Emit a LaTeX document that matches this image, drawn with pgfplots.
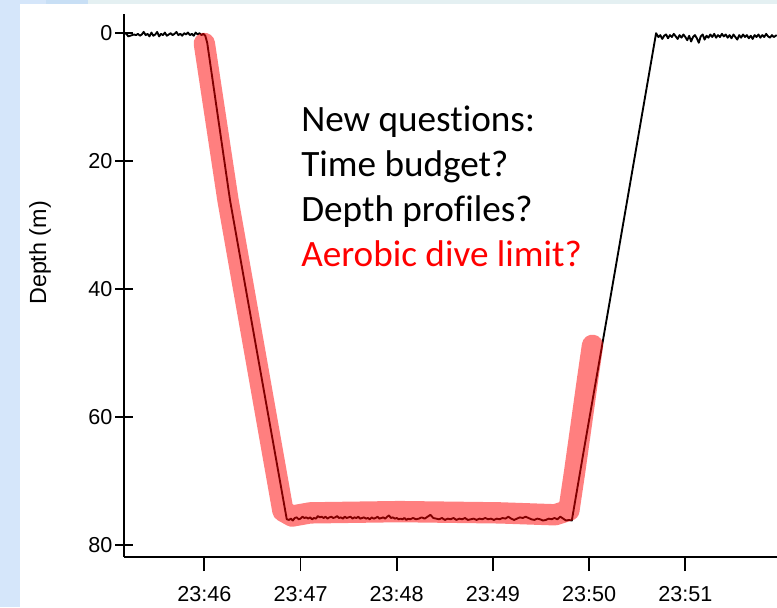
\documentclass[border=0pt]{standalone}
\usepackage{pgfplots}
\pgfplotsset{compat=1.18}
\usepackage{fontspec}
\setmainfont{Liberation Sans}
\newfontfamily\calibri[Ligatures=NoCommon]{Carlito}
\definecolor{bgblue}{RGB}{213,230,250}
\definecolor{bgblue2}{RGB}{200,223,245}
\definecolor{bgpale}{RGB}{228,240,242}
\begin{document}
\begin{tikzpicture}
\useasboundingbox (0,0) rectangle (582.75pt,455.25pt);
\fill[white] (0,0) rectangle (582.75pt,455.25pt);
\fill[bgblue] (0,0) rectangle (15pt,455.25pt);
\fill[bgblue] (0,451.9pt) rectangle (34.5pt,455.25pt);
\fill[bgblue2] (34.5pt,451.9pt) rectangle (66pt,455.25pt);
\fill[bgpale] (66pt,451.9pt) rectangle (582.75pt,455.25pt);
\begin{axis}[
  at={(93pt,37.5pt)}, anchor=south west, scale only axis,
  width=489.75pt, height=407.25pt,
  xmin=-0.835, xmax=5.953, ymin=-3, ymax=81.9, y dir=reverse,
  axis x line*=bottom, axis y line*=left,
  axis line style={line width=1.5pt, black},
  xtick={0,1,2,3,4,5},
  xticklabels={23:46,23:47,23:48,23:49,23:50,23:51},
  ytick={0,20,40,60,80},
  xtick align=outside, ytick align=center,
  major tick length=10.5pt,
  ytick style={/pgfplots/major tick length=12.75pt},
  tick style={line width=1.4pt, black},
  tick label style={font=\fontsize{16.2}{19}\selectfont},
  xticklabel style={yshift=-8pt},
  /pgf/number format/assume math mode=true,
  ylabel={Depth (m)},
  ylabel style={font=\fontsize{17.5}{20}\selectfont, at={(axis description cs:-0.1286,0.56)}, anchor=center},
  clip=true,
]
\addplot[black, line width=1.4pt, line join=round] coordinates {
(-0.835,0.0) (-0.81,0.1) (-0.79,0.5) (-0.77,0.4) (-0.75,0.3) (-0.73,0.2) (-0.71,0.3) (-0.69,0.1)
(-0.67,0.4) (-0.65,0.2) (-0.63,-0.2) (-0.61,0.3) (-0.59,0.1) (-0.57,0.5) (-0.55,-0.1) (-0.53,0.4)
(-0.51,0.2) (-0.49,-0.2) (-0.47,0.5) (-0.45,0.1) (-0.43,0.3) (-0.41,-0.1) (-0.39,0.4) (-0.37,0.2)
(-0.35,0.0) (-0.33,0.3) (-0.31,0.1) (-0.29,-0.2) (-0.27,0.3) (-0.25,0.1) (-0.23,0.4) (-0.21,0.0)
(-0.19,0.2) (-0.17,-0.1) (-0.15,0.3) (-0.13,0.1) (-0.11,0.4) (-0.09,-0.1) (-0.07,0.2) (-0.05,0.0)
(-0.03,0.3) (-0.01,0.1) (0.01,0.4) (0.03,1.5)
(0.267,26.1) (0.857,76.0)
(0.88,76.1) (0.90,75.9) (0.92,76.2) (0.94,75.8) (0.96,75.7) (0.98,76.0) (1.00,75.9) (1.02,75.6)
(1.04,75.8) (1.06,75.7) (1.08,75.9) (1.10,75.7) (1.12,76.0) (1.14,75.8) (1.16,75.9) (1.18,75.5)
(1.20,75.7) (1.22,75.6) (1.24,75.8) (1.26,75.6) (1.28,75.9) (1.30,75.7) (1.32,75.6) (1.34,75.8)
(1.36,75.7) (1.38,75.5) (1.40,75.8) (1.42,75.7) (1.44,75.9) (1.46,75.6) (1.48,75.8) (1.50,75.7)
(1.52,75.6) (1.54,75.9) (1.56,75.7) (1.58,75.8) (1.60,75.6) (1.62,75.9) (1.64,75.8) (1.66,75.7)
(1.68,75.9) (1.70,75.8) (1.72,76.0) (1.74,75.7) (1.76,75.9) (1.78,75.8) (1.80,75.6) (1.82,75.9)
(1.84,75.8) (1.86,75.7) (1.88,75.9) (1.90,75.6) (1.92,75.4) (1.94,75.8) (1.96,75.7) (1.98,75.9)
(2.00,75.8) (2.02,76.0) (2.04,75.9) (2.06,76.0) (2.08,75.8) (2.10,76.1) (2.12,75.9) (2.14,76.0)
(2.17,75.8) (2.20,76.0) (2.23,75.9) (2.26,75.7) (2.29,75.9) (2.32,75.6) (2.35,75.3) (2.38,75.8)
(2.41,75.9) (2.44,76.0) (2.47,75.8) (2.50,76.1) (2.53,75.9) (2.56,76.0) (2.59,75.8) (2.62,76.1)
(2.65,75.9) (2.68,76.0) (2.71,75.8) (2.74,76.1) (2.77,76.0) (2.80,75.9) (2.83,76.1) (2.86,75.9)
(2.89,76.0) (2.92,75.8) (2.95,76.0) (2.98,75.9) (3.01,76.1) (3.04,75.9) (3.07,76.0) (3.10,75.8)
(3.13,75.9) (3.16,75.6) (3.19,75.9) (3.22,76.1) (3.25,75.9) (3.28,75.7) (3.31,75.8) (3.34,75.6)
(3.37,75.8) (3.40,76.0) (3.43,76.1) (3.46,75.9) (3.49,76.0) (3.52,76.2) (3.55,76.1) (3.58,75.9)
(3.61,76.0) (3.64,75.8) (3.67,76.0) (3.70,75.6) (3.73,75.9) (3.76,76.2) (3.79,76.1) (3.82,76.2)
(3.945,65.2) (4.217,41.7) (4.696,0.0)
(4.72,0.6) (4.74,0.3) (4.76,0.9) (4.78,0.4) (4.80,0.2) (4.82,0.8) (4.84,0.3) (4.86,0.6)
(4.88,0.1) (4.90,0.5) (4.92,0.9) (4.94,0.3) (4.96,0.7) (4.98,0.2) (5.00,0.6) (5.02,1.1)
(5.04,0.4) (5.06,1.3) (5.08,0.6) (5.10,0.3) (5.12,0.8) (5.14,1.5) (5.16,0.5) (5.18,0.2)
(5.20,1.0) (5.22,0.4) (5.24,0.7) (5.26,0.2) (5.28,0.6) (5.30,0.1) (5.32,0.7) (5.34,0.3)
(5.36,0.6) (5.38,0.1) (5.40,0.5) (5.42,0.2) (5.44,0.7) (5.46,0.3) (5.48,0.8) (5.50,0.2)
(5.52,0.6) (5.54,1.0) (5.56,0.3) (5.58,0.7) (5.60,0.2) (5.62,0.6) (5.64,0.3) (5.66,0.8)
(5.68,0.4) (5.70,0.9) (5.72,0.3) (5.74,0.6) (5.76,0.2) (5.78,0.7) (5.80,0.3) (5.82,0.6)
(5.84,0.1) (5.86,0.5) (5.88,0.7) (5.90,0.3) (5.92,0.6) (5.95,0.3)
};
\addplot[red, opacity=0.5, line width=16pt, line cap=round, line join=round] coordinates {
(0.0,1.6) (0.246,26.1) (0.817,74.7) (0.912,75.5) (1.10,75.0) (2.03,74.8) (3.07,75.0)
(3.645,75.3) (3.79,74.6) (3.85,68.5) (3.92,61.0) (3.985,54.0) (4.035,48.8)
};
\node[anchor=base west, font=\calibri\fontsize{27.9}{33}\selectfont, inner sep=0pt] at (axis cs:1.005,15.31) {New questions:};
\node[anchor=base west, font=\calibri\fontsize{27.9}{33}\selectfont, inner sep=0pt] at (axis cs:1.005,22.34) {Time budget?};
\node[anchor=base west, font=\calibri\fontsize{27.9}{33}\selectfont, inner sep=0pt] at (axis cs:1.005,29.38) {Depth profiles?};
\node[anchor=base west, font=\calibri\fontsize{27.9}{33}\selectfont, inner sep=0pt, text=red] at (axis cs:1.005,36.4) {Aerobic dive limit?};
\end{axis}
\end{tikzpicture}
\end{document}
